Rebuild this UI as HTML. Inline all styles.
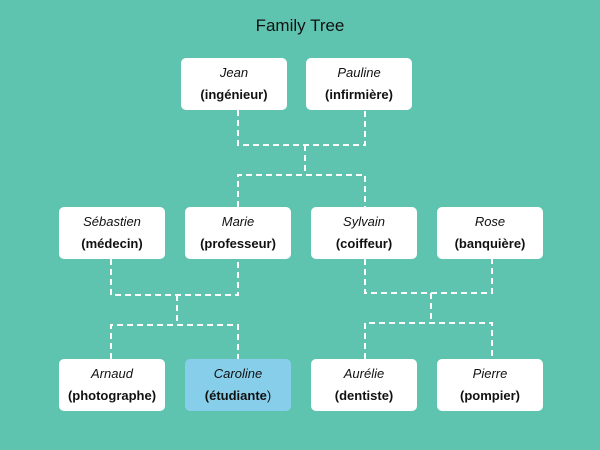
<!DOCTYPE html>
<html><head><style>
body{margin:0;width:600px;height:450px;background:#5ec4b0;font-family:"Liberation Sans",sans-serif;position:relative;overflow:hidden}
.t{position:absolute;top:16px;left:0;width:600px;text-align:center;font-size:17px;color:#111}
.b{position:absolute;width:106px;height:52px;background:#fff;border-radius:5px;text-align:center;font-size:13px;color:#111}
.b i{display:block;margin-top:7px}
.b b{display:block;margin-top:7px}
svg{position:absolute;left:0;top:0}
</style></head><body>
<div class="t">Family Tree</div>
<svg width="600" height="450"><g stroke="#fff" stroke-width="2" stroke-dasharray="6,4" fill="none">
<path d="M238 110V145H365V110M305 145V175M238 207V175H365V207"/>
<path d="M111 259V295H238V259M177 295V325M111 359V325H238V359"/>
<path d="M365 259V293H492V259M431 293V323M365 359V323H492V359"/>
</g></svg>
<div class="b" style="left:181px;top:58px"><i>Jean</i><b>(ingénieur)</b></div>
<div class="b" style="left:306px;top:58px"><i>Pauline</i><b>(infirmière)</b></div>
<div class="b" style="left:59px;top:207px"><i>Sébastien</i><b>(médecin)</b></div>
<div class="b" style="left:185px;top:207px"><i>Marie</i><b>(professeur)</b></div>
<div class="b" style="left:311px;top:207px"><i>Sylvain</i><b>(coiffeur)</b></div>
<div class="b" style="left:437px;top:207px"><i>Rose</i><b>(banquière)</b></div>
<div class="b" style="left:59px;top:359px"><i>Arnaud</i><b>(photographe)</b></div>
<div class="b" style="left:185px;top:359px;background:#87ceeb"><i>Caroline</i><b>(étudiante<span style="font-weight:normal">)</span></b></div>
<div class="b" style="left:311px;top:359px"><i>Aurélie</i><b>(dentiste)</b></div>
<div class="b" style="left:437px;top:359px"><i>Pierre</i><b>(pompier)</b></div>
</body></html>
